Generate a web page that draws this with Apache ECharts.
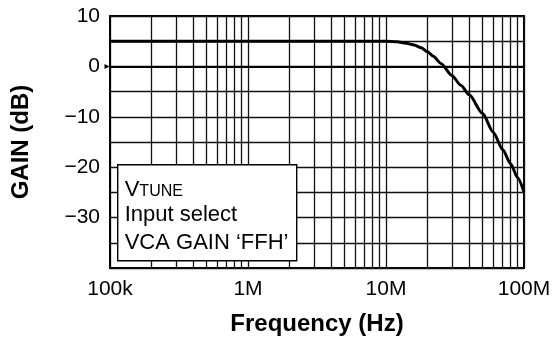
<!DOCTYPE html>
<html>
<head>
<meta charset="utf-8">
<script src="https://cdn.jsdelivr.net/npm/echarts@6/dist/echarts.min.js"></script>
<style>
html,body{margin:0;padding:0;background:#fff;}
#chart{width:555px;height:345px;}
</style>
</head>
<body>
<div id="chart"></div>
<script>
// ---- data ----
const freqHz = [1e5, 1e6, 1e7, 1.2e7, 1.4e7, 1.6e7, 1.8e7, 2.0e7, 2.2e7, 2.5e7, 3.0e7, 3.5e7, 4.0e7, 5.0e7, 6.0e7, 7.0e7, 8.0e7, 9.0e7, 1.0e8];
const gainDb = [5, 5, 5, 4.9, 4.6, 4.25, 3.7, 2.9, 2.0, 0.6, -1.8, -3.8, -5.6, -9.3, -13.1, -16.5, -19.3, -22.1, -25.0];
const xTickValues = [1e5, 1e6, 1e7, 1e8];
const xTickLabels = ['100k', '1M', '10M', '100M'];
const yTickValues = [10, 0, -10, -20, -30];
const yTickLabels = ['10', '0', '\u221210', '\u221220', '\u221230'];
const minorFreqs = [2e5, 3e5, 4e5, 5e5, 6e5, 7e5, 8e5, 9e5,
                    2e6, 3e6, 4e6, 5e6, 6e6, 7e6, 8e6, 9e6,
                    2e7, 3e7, 4e7, 5e7, 6e7, 7e7, 8e7, 9e7];
const boxLines = ['Input select', 'VCA GAIN \u2018FFH\u2019'];
const xTitle = 'Frequency (Hz)';
const yTitle = 'GAIN (dB)';

const FONT = '"Liberation Sans", Arial, Helvetica, sans-serif';
const GRIDC = '#111';

const chart = echarts.init(document.getElementById('chart'), null, {renderer: 'canvas'});

function findLabel(vals, labels, v) {
  for (let i = 0; i < vals.length; i++) {
    if (Math.abs(vals[i] - v) <= Math.abs(vals[i]) * 1e-6 + 1e-9) return labels[i];
  }
  return '';
}

const option = {
  animation: false,
  backgroundColor: '#fff',
  grid: {
    left: 110, right: 31, top: 16, bottom: 77,
    show: true, borderColor: '#000', borderWidth: 2, backgroundColor: 'transparent'
  },
  xAxis: {
    type: 'log', logBase: 10, min: 1e5, max: 1e8,
    name: xTitle, nameLocation: 'middle', nameGap: 44,
    nameTextStyle: {fontFamily: FONT, fontSize: 24, fontWeight: 'bold', color: '#000'},
    axisLine: {show: true, lineStyle: {color: '#000', width: 2}},
    axisTick: {show: false},
    axisLabel: {
      fontFamily: FONT, fontSize: 21, color: '#000', margin: 11,
      formatter: v => findLabel(xTickValues, xTickLabels, v)
    },
    splitLine: {show: true, lineStyle: {color: GRIDC, width: 1.3}},
    minorTick: {show: false},
    minorSplitLine: {show: false}
  },
  yAxis: {
    type: 'value', min: -40, max: 10, interval: 5,
    name: yTitle, nameLocation: 'middle', nameGap: 77, nameRotate: 90,
    nameTextStyle: {fontFamily: FONT, fontSize: 24, fontWeight: 'bold', color: '#000'},
    axisLine: {show: true, lineStyle: {color: '#000', width: 2}},
    axisTick: {show: false},
    axisLabel: {
      fontFamily: FONT, fontSize: 21, color: '#000', margin: 10,
      formatter: v => findLabel(yTickValues, yTickLabels, v)
    },
    splitLine: {show: true, lineStyle: {color: GRIDC, width: 1.3}}
  },
  series: [
    {
      name: 'minor', type: 'line', data: [], z: 1, silent: true,
      markLine: {
        silent: true, symbol: ['none', 'none'], animation: false,
        label: {show: false},
        lineStyle: {color: GRIDC, width: 1.3, type: 'solid'},
        emphasis: {disabled: true},
        data: minorFreqs.map(v => ({xAxis: v}))
      }
    },
    {
      name: 'gain', type: 'line', z: 5, clip: false,
      data: freqHz.map((f, i) => [f, gainDb[i]]),
      showSymbol: false, symbol: 'none', smooth: 0.25, smoothMonotone: 'x',
      lineStyle: {color: '#000', width: 3},
      markPoint: {
        silent: true, symbol: 'triangle', symbolRotate: -90, symbolSize: [5, 5],
        symbolOffset: [-3, 0], itemStyle: {color: '#000'}, label: {show: false},
        data: [{coord: [xTickValues[0], 0]}]
      }
    }
  ],
  graphic: [
    {
      type: 'group', left: 117, top: 164, z: 100, zlevel: 0,
      children: [
        {type: 'rect', z: 100, shape: {x: 0, y: 0, width: 179, height: 96},
         style: {fill: '#ffffff', stroke: '#000', lineWidth: 1.4}},
        {type: 'text', z: 101, x: 7, y: 8,
         style: {
           text: '{v|V}{t|TUNE}\n{n|' + boxLines[0] + '}\n{n|' + boxLines[1] + '}',
           fill: '#000', font: '22px ' + FONT, lineHeight: 28,
           rich: {
             v: {fontFamily: FONT, fontSize: 22, lineHeight: 28, verticalAlign: 'bottom', fill: '#000'},
             t: {fontFamily: FONT, fontSize: 16, lineHeight: 28, verticalAlign: 'bottom', fill: '#000', padding: [0, 0, 1, 0]},
             n: {fontFamily: FONT, fontSize: 22, lineHeight: 28, fill: '#000'}
           }
         }}
      ]
    }
  ]
};
chart.setOption(option);
</script>
</body>
</html>
